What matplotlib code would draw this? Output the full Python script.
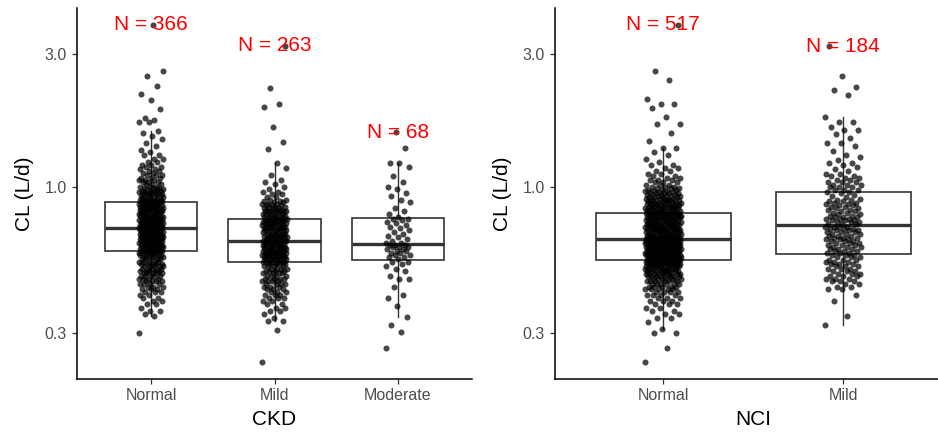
import numpy as np
import matplotlib.pyplot as plt
from matplotlib import cbook
from matplotlib.ticker import FixedLocator, FixedFormatter, NullLocator

plt.rcParams['font.family'] = ['Liberation Sans', 'DejaVu Sans']

ckd_groups = ["Normal", "Mild", "Moderate"]
nci_groups = ["Normal", "Mild"]

# clearance CL (L/d), stored as (value, count) pairs
ckd_normal_freq = [
    (0.30, 1), (0.345, 1), (0.35, 1), (0.36, 2), (0.37, 1), (0.38, 2), (0.39, 2), (0.40, 2),
    (0.41, 2), (0.42, 3), (0.43, 3), (0.44, 3), (0.45, 4), (0.46, 4), (0.47, 4), (0.48, 5),
    (0.49, 5), (0.50, 5), (0.51, 5), (0.52, 5), (0.53, 5), (0.54, 5), (0.55, 5), (0.56, 5),
    (0.57, 5), (0.58, 6),
    (0.59, 7), (0.60, 7), (0.61, 7), (0.62, 7), (0.63, 7), (0.64, 7), (0.65, 7), (0.66, 7),
    (0.67, 7), (0.68, 7), (0.69, 7), (0.70, 7), (0.71, 8),
    (0.72, 6), (0.73, 6), (0.74, 6), (0.75, 6), (0.76, 6), (0.77, 6), (0.78, 6), (0.79, 5),
    (0.80, 5), (0.81, 5), (0.82, 5), (0.83, 5), (0.84, 5), (0.85, 5), (0.86, 5), (0.87, 5),
    (0.88, 5),
    (0.89, 5), (0.90, 5), (0.91, 3), (0.92, 3), (0.93, 3), (0.94, 3), (0.95, 4), (0.96, 3),
    (0.97, 3), (0.98, 3), (0.99, 3), (1.00, 3), (1.02, 3), (1.04, 3), (1.06, 3), (1.08, 3),
    (1.10, 3), (1.12, 2), (1.14, 2), (1.16, 2), (1.18, 2), (1.20, 2), (1.23, 2), (1.26, 2),
    (1.30, 2), (1.33, 1), (1.36, 1), (1.40, 1), (1.44, 1), (1.48, 1), (1.52, 1), (1.56, 1),
    (1.59, 1), (1.70, 2), (1.74, 1), (1.76, 1), (1.90, 1), (2.05, 1), (2.15, 1), (2.30, 1),
    (2.50, 1), (2.60, 1), (3.80, 1),
]
ckd_mild_freq = [
    (0.236, 1), (0.307, 1), (0.33, 2), (0.34, 1), (0.35, 1), (0.36, 2), (0.37, 2), (0.38, 2),
    (0.39, 2), (0.40, 3), (0.41, 3), (0.42, 3), (0.43, 3), (0.44, 3), (0.45, 4), (0.46, 4),
    (0.47, 4), (0.48, 4), (0.49, 4), (0.50, 4), (0.51, 4), (0.52, 4), (0.53, 4),
    (0.54, 7), (0.55, 7), (0.56, 7), (0.57, 7), (0.58, 7), (0.59, 7), (0.60, 6), (0.61, 6),
    (0.62, 6), (0.63, 6),
    (0.64, 6), (0.65, 5), (0.66, 5), (0.67, 5), (0.68, 5), (0.69, 5), (0.70, 5), (0.71, 5),
    (0.72, 5), (0.73, 5), (0.74, 5), (0.75, 5), (0.76, 5),
    (0.77, 4), (0.78, 4), (0.79, 4), (0.80, 4), (0.81, 4), (0.82, 4), (0.83, 3), (0.84, 3),
    (0.85, 3), (0.86, 3), (0.87, 3), (0.88, 2), (0.89, 2), (0.90, 2), (0.92, 2), (0.94, 2),
    (0.96, 2), (0.98, 1), (1.00, 1), (1.02, 1), (1.04, 1), (1.06, 1), (1.10, 1), (1.17, 1),
    (1.22, 1), (1.37, 1), (1.45, 1), (1.64, 1), (1.93, 1), (1.98, 1), (2.26, 1), (3.20, 1),
]
ckd_moderate = [
    0.266, 0.302, 0.32, 0.343, 0.375, 0.40, 0.41, 0.44, 0.47, 0.47, 0.48, 0.50, 0.51, 0.52,
    0.53, 0.54, 0.54,
    0.55, 0.56, 0.56, 0.57, 0.57, 0.58, 0.58, 0.59, 0.59, 0.60, 0.60, 0.61, 0.61, 0.61,
    0.62, 0.62, 0.62,
    0.63, 0.63, 0.64, 0.65, 0.66, 0.67, 0.68, 0.69, 0.70, 0.71, 0.72, 0.73, 0.74, 0.75,
    0.76, 0.77, 0.77,
    0.78, 0.80, 0.82, 0.84, 0.88, 0.90, 0.93, 0.95, 0.98, 1.00, 1.04, 1.09, 1.18, 1.22,
    1.22, 1.38, 1.57,
]
nci_normal_freq = [
    (0.236, 1), (0.265, 1), (0.30, 2), (0.31, 1), (0.33, 1), (0.34, 2), (0.35, 2), (0.36, 2),
    (0.37, 2), (0.38, 3), (0.39, 3), (0.40, 3), (0.41, 4), (0.42, 4), (0.43, 5), (0.44, 5),
    (0.45, 6), (0.46, 6), (0.47, 7), (0.48, 8), (0.49, 9), (0.50, 9), (0.51, 10), (0.52, 10),
    (0.53, 11), (0.54, 12),
    (0.55, 13), (0.56, 13), (0.57, 13), (0.58, 13), (0.59, 13), (0.60, 13), (0.61, 13),
    (0.62, 13), (0.63, 13), (0.64, 12),
    (0.65, 10), (0.66, 9), (0.67, 9), (0.68, 9), (0.69, 8), (0.70, 8), (0.71, 8), (0.72, 8),
    (0.73, 8), (0.74, 8), (0.75, 7), (0.76, 7), (0.77, 7), (0.78, 7), (0.79, 7), (0.80, 9),
    (0.81, 7), (0.82, 6), (0.83, 6), (0.84, 6), (0.85, 6), (0.86, 6), (0.87, 4), (0.88, 5),
    (0.89, 5), (0.90, 5), (0.91, 4), (0.92, 4), (0.93, 4), (0.94, 4), (0.95, 4), (0.96, 3),
    (0.97, 3), (0.98, 3), (0.99, 3), (1.00, 3), (1.02, 3), (1.04, 3), (1.06, 3), (1.08, 2),
    (1.10, 2), (1.12, 2), (1.14, 2), (1.17, 2), (1.20, 2), (1.23, 1), (1.26, 1), (1.30, 1),
    (1.34, 1), (1.38, 2), (1.46, 1), (1.56, 1), (1.68, 2), (1.78, 1), (1.92, 1), (1.98, 2),
    (2.07, 1), (2.42, 1), (2.60, 1), (3.82, 1),
]
nci_mild_freq = [
    (0.32, 1), (0.345, 1), (0.39, 1), (0.41, 1), (0.43, 2), (0.44, 2), (0.45, 2), (0.46, 3),
    (0.47, 3), (0.48, 3), (0.49, 3), (0.50, 3), (0.51, 3), (0.52, 3), (0.53, 3), (0.54, 3),
    (0.55, 3), (0.56, 3), (0.57, 3),
    (0.58, 3), (0.59, 3), (0.60, 3), (0.61, 3), (0.62, 3), (0.63, 3), (0.64, 3), (0.65, 3),
    (0.66, 3), (0.67, 3), (0.68, 3), (0.69, 3), (0.70, 3), (0.71, 3), (0.72, 4),
    (0.74, 3), (0.75, 3), (0.76, 3), (0.77, 3), (0.78, 3), (0.79, 2), (0.80, 2), (0.81, 2),
    (0.82, 2), (0.83, 2), (0.84, 2), (0.85, 2), (0.86, 2), (0.87, 2), (0.88, 2), (0.89, 2),
    (0.90, 2), (0.91, 1), (0.92, 1), (0.93, 1), (0.94, 1), (0.95, 1), (0.96, 2),
    (0.98, 3), (1.00, 3), (1.02, 3), (1.04, 3), (1.06, 2), (1.08, 2), (1.10, 2), (1.12, 2),
    (1.14, 1), (1.16, 1), (1.18, 1), (1.20, 1), (1.22, 2), (1.25, 1), (1.28, 1), (1.31, 1),
    (1.35, 1), (1.40, 1), (1.44, 2), (1.50, 1), (1.55, 1), (1.60, 2), (1.65, 1), (1.71, 2),
    (1.78, 1), (2.14, 1), (2.24, 1), (2.28, 1), (2.50, 1), (3.20, 1),
]

y_ticks = [0.3, 1.0, 3.0]
y_tick_labels = ["0.3", "1.0", "3.0"]


def expand(freq):
    vals = np.array([v for v, _ in freq])
    counts = np.array([c for _, c in freq])
    return np.repeat(vals, counts)


def panel(ax, groups, samples, xlabel):
    pos = np.arange(1, len(groups) + 1)

    # box statistics on log10 scale, as with a log10 y scale
    stats = cbook.boxplot_stats([np.log10(s) for s in samples], whis=1.5)
    for st in stats:
        for k in ("med", "q1", "q3", "whislo", "whishi", "mean"):
            st[k] = 10 ** st[k]
        st["fliers"] = np.array([])

    ax.bxp(stats, positions=pos, widths=0.75, showfliers=False, showcaps=False,
           patch_artist=True,
           boxprops=dict(facecolor="white", edgecolor="#333333", linewidth=1.2),
           medianprops=dict(color="#333333", linewidth=2.4, solid_capstyle="butt"),
           whiskerprops=dict(color="#333333", linewidth=1.0))

    for x, s in zip(pos, samples):
        n = len(s)
        # even horizontal spread of ±0.1 around the group
        offs = ((np.arange(n) * 0.6180339887) % 1.0 - 0.5) * 0.2
        ax.scatter(x + offs, s, s=19, color="black", alpha=0.72, linewidths=0, zorder=3)
        ax.text(x, s.max(), f"N = {n}", color="red", fontsize=15,
                ha="center", va="center", zorder=4)

    allv = np.concatenate(samples)
    lo, hi = np.log10(allv.min()), np.log10(allv.max())
    pad = 0.05 * (hi - lo)
    ax.set_yscale("log")
    ax.set_ylim(10 ** (lo - pad), 10 ** (hi + pad))
    ax.set_xlim(0.4, len(groups) + 0.6)

    ax.yaxis.set_major_locator(FixedLocator(y_ticks))
    ax.yaxis.set_major_formatter(FixedFormatter(y_tick_labels))
    ax.yaxis.set_minor_locator(NullLocator())
    ax.set_xticks(pos)
    ax.set_xticklabels(groups)

    for side in ("top", "right"):
        ax.spines[side].set_visible(False)
    for side in ("left", "bottom"):
        ax.spines[side].set_linewidth(1.1)
        ax.spines[side].set_color("black")
    ax.tick_params(axis="both", direction="out", length=3.6, width=0.9, color="#333333",
                   labelcolor="#4D4D4D", labelsize=11.5)
    ax.tick_params(axis="x", pad=3.0)
    ax.tick_params(axis="y", pad=3.6)

    ax.set_ylabel("CL (L/d)", fontsize=15)
    ax.yaxis.set_label_coords(-0.132, 0.5)
    ax.set_xlabel(xlabel, fontsize=15)
    ax.xaxis.set_label_coords(0.5, -0.108)
    ax.xaxis.label.set_va("center")
    ax.yaxis.label.set_va("center")


fig = plt.figure(figsize=(9.38, 4.33), dpi=100)
ax1 = fig.add_axes([0.0821, 0.1247, 0.4211, 0.8568])
ax2 = fig.add_axes([0.5917, 0.1247, 0.4222, 0.8568])

panel(ax1, ckd_groups, [expand(ckd_normal_freq), expand(ckd_mild_freq), np.array(ckd_moderate)], "CKD")
panel(ax2, nci_groups, [expand(nci_normal_freq), expand(nci_mild_freq)], "NCI")

fig.savefig("out.png", dpi=100)
